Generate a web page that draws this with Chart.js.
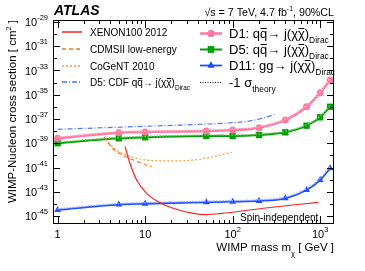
<!DOCTYPE html>
<html>
<head>
<meta charset="utf-8">
<script src="https://cdn.jsdelivr.net/npm/chart.js@4.4.0/dist/chart.umd.min.js"></script>
<style>
  html, body { margin: 0; padding: 0; background: #fff; }
</style>
</head>
<body>
<canvas id="limits" width="365" height="271"></canvas>
<script>
// WIMP masses used by the ATLAS EFT limits (GeV)
const masses = [1, 5, 10, 50, 100, 200, 400, 700, 1000, 1300];

// ATLAS limits (cm^2)
const d1Limit = [2.57e-39, 7.41e-39, 8.51e-39, 1.02e-38, 1.23e-38, 1.91e-38, 8.32e-38, 1.02e-36, 1.48e-35, 1.66e-34];
const d5Limit = [1.0e-39, 2.57e-39, 3.09e-39, 3.98e-39, 3.98e-39, 4.79e-39, 7.94e-39, 2.82e-38, 1.38e-37, 1.02e-36];
const d11Limit = [3.16e-45, 8.71e-45, 1.02e-44, 1.35e-44, 1.51e-44, 1.74e-44, 2.88e-44, 1.38e-43, 9.33e-43, 8.51e-42];

// -1 sigma theory variations
const d1Theory = [3.1e-39, 8.9e-39, 1.0e-38, 1.2e-38, 1.5e-38, 2.3e-38, 1.0e-37, 1.3e-36, 1.9e-35, 2.2e-34];
const d5Theory = [1.2e-39, 3.0e-39, 3.6e-39, 4.7e-39, 4.7e-39, 5.7e-39, 9.5e-39, 3.4e-38, 1.7e-37, 1.3e-36];
const d11Theory = [3.9e-45, 1.05e-44, 1.25e-44, 1.65e-44, 1.85e-44, 2.15e-44, 3.6e-44, 1.8e-43, 1.25e-42, 1.15e-41];

// CDF D5 limit
const cdfMass = [1, 10, 50, 100, 160, 230, 300];
const cdfLimit = [1.41e-38, 2.51e-38, 3.80e-38, 5.01e-38, 7.08e-38, 1.26e-37, 2.40e-37];

// direct detection
const xenonMass = [5.9, 6.7, 8.0, 10.4, 14.1, 20.9, 35.5, 50, 72, 224, 954];
const xenonLimit = [5.25e-40, 2.24e-41, 9.33e-43, 7.41e-44, 1.51e-44, 4.37e-45, 1.66e-45, 1.32e-45, 1.58e-45, 4.37e-45, 1.35e-44];
const cdmsMass = [3.4, 4.2, 5.1, 6.7, 9.1, 11.8];
const cdmsLimit = [3.31e-39, 4.07e-40, 1.45e-40, 5.50e-41, 2.24e-41, 1.17e-41];
const cogentMass = [3.5, 4.7, 6.15, 8.7, 19.2, 42.3, 97.5];
const cogentLimit = [2.0e-39, 2.75e-40, 1.07e-40, 5.01e-41, 3.47e-41, 4.79e-41, 1.78e-40];

// axis labels
const yTickExps = [-29, -31, -33, -35, -37, -39, -41, -43, -45];
const xTickLabels = [['1', ''], ['10', ''], ['10', '2'], ['10', '3']];
const xTickValues = [1, 10, 100, 1000];

const FONT = '"Liberation Sans", Arial, sans-serif';

function pts(xs, ys) {
    return xs.map((x, i) => ({ x: x, y: ys[i] }));
}

// draw text made of parts (sub/sup/overline)
function richWidth(ctx, parts, size) {
    let w = 0;
    parts.forEach(p => {
        const fs = (p.sub || p.sup) ? size * 0.65 : size;
        ctx.font = fs + 'px ' + FONT;
        w += ctx.measureText(p.t).width;
    });
    return w;
}

function drawRich(ctx, parts, x, y, size) {
    let cx = x;
    parts.forEach(p => {
        let fs = size, dy = 0;
        if (p.sub) { fs = size * 0.65; dy = size * 0.42; }
        if (p.sup) { fs = size * 0.65; dy = -size * 0.45; }
        ctx.font = fs + 'px ' + FONT;
        ctx.fillText(p.t, cx, y + dy);
        const w = ctx.measureText(p.t).width;
        if (p.over) {
            ctx.fillRect(cx + 0.5, Math.round(y - size * 0.76), w - 1, 1);
        }
        cx += w;
    });
}

const theoryDash = [1.5, 1.5];

const datasets = [
    { label: 'XENON100 2012', data: pts(xenonMass, xenonLimit), borderColor: '#ff2020', borderWidth: 1.2, pointRadius: 0, cubicInterpolationMode: 'monotone' },
    { label: 'CDMSII low-energy', data: pts(cdmsMass, cdmsLimit), borderColor: '#f07820', borderWidth: 1.2, borderDash: [4, 3], pointRadius: 0, cubicInterpolationMode: 'monotone' },
    { label: 'CoGeNT 2010', data: pts(cogentMass, cogentLimit), borderColor: '#ff9a40', borderWidth: 1.2, borderDash: [2, 2], pointRadius: 0, cubicInterpolationMode: 'monotone' },
    { label: 'D5: CDF', data: pts(cdfMass, cdfLimit), borderColor: '#4a78ff', borderWidth: 1.2, borderDash: [5, 2, 1, 2], pointRadius: 0, cubicInterpolationMode: 'monotone' },
    { label: 'D1 theory', data: pts(masses, d1Theory), borderColor: '#ffb0c8', borderWidth: 1.5, borderDash: theoryDash, pointRadius: 0, cubicInterpolationMode: 'monotone' },
    { label: 'D5 theory', data: pts(masses, d5Theory), borderColor: '#70c870', borderWidth: 1.5, borderDash: theoryDash, pointRadius: 0, cubicInterpolationMode: 'monotone' },
    { label: 'D11 theory', data: pts(masses, d11Theory), borderColor: '#90a8ff', borderWidth: 1.5, borderDash: theoryDash, pointRadius: 0, cubicInterpolationMode: 'monotone' },
    { label: 'D1', data: pts(masses, d1Limit), borderColor: '#ff78a0', backgroundColor: '#ff78a0', borderWidth: 2.5, pointStyle: 'circle', pointRadius: 3.5, pointBorderWidth: 0, cubicInterpolationMode: 'monotone' },
    { label: 'D5', data: pts(masses, d5Limit), borderColor: '#00a000', backgroundColor: '#00a000', borderWidth: 2, pointStyle: 'rect', pointRadius: 4.5, pointBorderWidth: 0, cubicInterpolationMode: 'monotone' },
    { label: 'D11', data: pts(masses, d11Limit), borderColor: '#1f4fff', backgroundColor: '#1f4fff', borderWidth: 1.8, pointStyle: 'triangle', pointRadius: 4, pointBorderWidth: 0, cubicInterpolationMode: 'monotone' }
];

// frame, ticks, labels and legend in ROOT style
const decorations = {
    id: 'decorations',
    afterDraw(chart) {
        const ctx = chart.ctx;
        const area = chart.chartArea;
        const xs = chart.scales.x;
        const ys = chart.scales.y;
        ctx.save();
        ctx.fillStyle = '#000';
        ctx.strokeStyle = '#000';
        ctx.lineWidth = 1;
        ctx.setLineDash([]);

        // frame
        ctx.strokeRect(area.left + 0.5, area.top + 0.5, area.right - area.left - 1, area.bottom - area.top - 1);

        // x ticks (inward, top and bottom)
        ctx.beginPath();
        for (let d = 0; d <= 3; d++) {
            for (let k = 1; k <= 9; k++) {
                const v = k * Math.pow(10, d);
                if (v < xs.min || v > xs.max) continue;
                const px = Math.round(xs.getPixelForValue(v)) + 0.5;
                const len = k === 1 ? 8 : 4;
                ctx.moveTo(px, area.bottom);
                ctx.lineTo(px, area.bottom - len);
                ctx.moveTo(px, area.top);
                ctx.lineTo(px, area.top + len);
            }
        }
        // y ticks (each decade, longer at labels)
        for (let e = -46; e <= -29; e++) {
            const v = Math.pow(10, e);
            if (v < ys.min || v > ys.max) continue;
            const py = Math.round(ys.getPixelForValue(v)) + 0.5;
            const len = (e % 2 !== 0) ? 7 : 4;
            ctx.moveTo(area.left, py);
            ctx.lineTo(area.left + len, py);
            ctx.moveTo(area.right, py);
            ctx.lineTo(area.right - len, py);
        }
        ctx.stroke();

        // y tick labels
        ctx.textBaseline = 'middle';
        yTickExps.forEach(e => {
            const py = ys.getPixelForValue(Math.pow(10, e));
            ctx.font = '7.5px ' + FONT;
            const ew = ctx.measureText(String(e)).width;
            ctx.font = '11px ' + FONT;
            const bw = ctx.measureText('10').width;
            const x0 = area.left - 5 - ew - bw;
            ctx.fillText('10', x0, py + 1);
            ctx.font = '7.5px ' + FONT;
            ctx.fillText(String(e), x0 + bw, py - 4);
        });

        // x tick labels
        xTickLabels.forEach((lab, i) => {
            const px = xs.getPixelForValue(xTickValues[i]);
            ctx.font = '11px ' + FONT;
            const bw = ctx.measureText(lab[0]).width;
            ctx.font = '7.5px ' + FONT;
            const ew = lab[1] ? ctx.measureText(lab[1]).width : 0;
            const x0 = px - (bw + ew) / 2;
            ctx.font = '11px ' + FONT;
            ctx.fillText(lab[0], x0, area.bottom + 11);
            if (lab[1]) {
                ctx.font = '7.5px ' + FONT;
                ctx.fillText(lab[1], x0 + bw, area.bottom + 6);
            }
        });

        // axis titles
        ctx.textBaseline = 'alphabetic';
        const xTitle = [{ t: 'WIMP mass m' }, { t: 'χ', sub: true }, { t: ' [ GeV ]' }];
        const xw = richWidth(ctx, xTitle, 11.5);
        drawRich(ctx, xTitle, area.right - xw, area.bottom + 27, 11.5);

        const yTitle = [{ t: 'WIMP-Nucleon cross section [ cm' }, { t: '2', sup: true }, { t: ' ]' }];
        const yw = richWidth(ctx, yTitle, 11.5);
        ctx.save();
        ctx.translate(16, area.top);
        ctx.rotate(-Math.PI / 2);
        drawRich(ctx, yTitle, -yw, 0, 11.5);
        ctx.restore();

        // header
        ctx.font = 'italic bold 14px ' + FONT;
        ctx.fillText('ATLAS', 54, 15);
        const header = [{ t: '√s = 7 TeV, 4.7 fb' }, { t: '-1', sup: true }, { t: ', 90%CL' }];
        const hw = richWidth(ctx, header, 10.7);
        drawRich(ctx, header, area.right - hw, 16, 10.7);

        // left legend
        const leftRows = [
            { ds: 0, y: 32, text: [{ t: 'XENON100 2012' }] },
            { ds: 1, y: 49, text: [{ t: 'CDMSII low-energy' }] },
            { ds: 2, y: 66, text: [{ t: 'CoGeNT 2010' }] },
            { ds: 3, y: 82, text: [{ t: 'D5: CDF q' }, { t: 'q', over: true }, { t: '→ j(χ' }, { t: 'χ', over: true }, { t: ')' }, { t: 'Dirac', sub: true }] }
        ];
        leftRows.forEach(r => {
            const d = datasets[r.ds];
            ctx.strokeStyle = d.borderColor;
            ctx.lineWidth = 1.5;
            ctx.setLineDash(d.borderDash || []);
            ctx.beginPath();
            ctx.moveTo(62, r.y);
            ctx.lineTo(82, r.y);
            ctx.stroke();
            ctx.fillStyle = '#000';
            drawRich(ctx, r.text, 90, r.y + 4, 10);
        });

        // right legend
        const rightRows = [
            { ds: 7, y: 33, text: [{ t: 'D1: q' }, { t: 'q', over: true }, { t: '→ j(χ' }, { t: 'χ', over: true }, { t: ')' }, { t: 'Dirac', sub: true }] },
            { ds: 8, y: 49, text: [{ t: 'D5: q' }, { t: 'q', over: true }, { t: '→ j(χ' }, { t: 'χ', over: true }, { t: ')' }, { t: 'Dirac', sub: true }] },
            { ds: 9, y: 65, text: [{ t: 'D11: gg→ j(χ' }, { t: 'χ', over: true }, { t: ')' }, { t: 'Dirac', sub: true }] },
            { ds: -1, y: 82, text: [{ t: '-1 σ' }, { t: 'theory', sub: true }] }
        ];
        rightRows.forEach(r => {
            ctx.setLineDash([]);
            if (r.ds >= 0) {
                const d = datasets[r.ds];
                ctx.strokeStyle = d.borderColor;
                ctx.lineWidth = d.borderWidth;
                ctx.beginPath();
                ctx.moveTo(200, r.y + 0.5);
                ctx.lineTo(222, r.y + 0.5);
                ctx.stroke();
                ctx.fillStyle = d.backgroundColor;
                Chart.helpers.drawPoint(ctx, { pointStyle: d.pointStyle, radius: d.pointRadius, borderWidth: 0 }, 211, r.y + 0.5);
                ctx.fill();
            } else {
                ctx.strokeStyle = '#000';
                ctx.lineWidth = 1;
                ctx.setLineDash([1, 1.5]);
                ctx.beginPath();
                ctx.moveTo(200, r.y + 0.5);
                ctx.lineTo(222, r.y + 0.5);
                ctx.stroke();
            }
            ctx.fillStyle = '#000';
            drawRich(ctx, r.text, 229, r.y + 5, 13);
        });

        ctx.font = '10px ' + FONT;
        ctx.fillText('Spin-independent', 240, area.bottom - 3);
        ctx.restore();
    }
};

new Chart(document.getElementById('limits'), {
    type: 'line',
    data: { datasets: datasets },
    options: {
        responsive: false,
        devicePixelRatio: 1,
        animation: false,
        layout: { padding: { left: 53, right: 31, top: 20, bottom: 47 } },
        plugins: { legend: { display: false }, tooltip: { enabled: false } },
        scales: {
            x: { type: 'logarithmic', min: 0.885, max: 1440, display: false },
            y: { type: 'logarithmic', min: 2.19e-46, max: 1.46e-29, display: false }
        }
    },
    plugins: [decorations]
});
</script>
</body>
</html>
